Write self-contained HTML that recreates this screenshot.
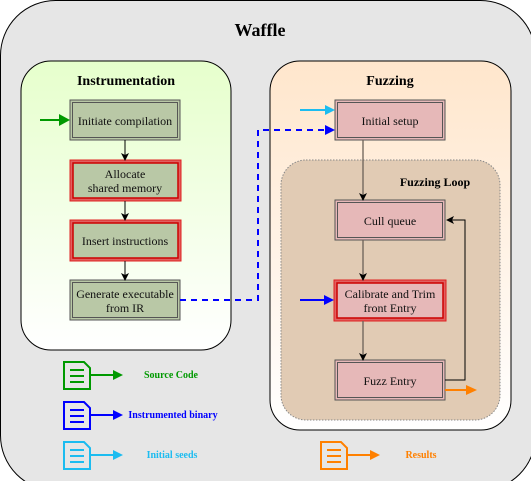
<!DOCTYPE html>
<html><head><style>body{margin:0;background:#fff}svg{display:block}text{font-family:"Liberation Serif",serif}</style></head>
<body>
<svg width="531" height="481" viewBox="0 0 531 481" xmlns="http://www.w3.org/2000/svg">
<defs>
<linearGradient id="g1" x1="0" y1="0" x2="0" y2="1"><stop offset="0" stop-color="#e6ffcc"/><stop offset="1" stop-color="#ffffff"/></linearGradient>
<linearGradient id="g2" x1="0" y1="0" x2="0" y2="1"><stop offset="0" stop-color="#ffe6cc"/><stop offset="1" stop-color="#ffffff"/></linearGradient>
<marker id="ak" markerWidth="8" markerHeight="8" refX="7" refY="4" orient="auto" markerUnits="userSpaceOnUse"><path d="M0,0 L8,4 L0,8 L2,4z" fill="#000"/></marker>
</defs>
<rect x="0.5" y="0.5" width="535" height="490" rx="55" fill="#e6e6e6" stroke="#000"/>
<text x="260" y="36" font-size="18" font-weight="bold" text-anchor="middle">Waffle</text>

<rect x="21" y="61" width="210" height="289" rx="30" fill="url(#g1)" stroke="#000"/>
<text x="126" y="85" font-size="14" font-weight="bold" text-anchor="middle">Instrumentation</text>

<rect x="270" y="61" width="241" height="369" rx="30" fill="url(#g2)" stroke="#000"/>
<text x="390" y="85" font-size="14" font-weight="bold" text-anchor="middle">Fuzzing</text>
<rect x="281" y="160" width="219" height="260" rx="25" fill="#e1cbb4" stroke="#888" stroke-dasharray="1.5,1.5"/>
<text x="435" y="186" font-size="12" font-weight="bold" text-anchor="middle">Fuzzing Loop</text>

<g font-size="12" text-anchor="middle" fill="#111">
<rect x="70" y="100" width="110" height="40" fill="#b9c8a6" stroke="#555" stroke-width="1"/><rect x="72.5" y="102.5" width="105" height="35" fill="none" stroke="#555"/>
<text x="125" y="125">Initiate compilation</text>
<rect x="70" y="160" width="111" height="41" fill="#e06060" stroke="#e02020"/><rect x="73" y="163" width="105" height="35" fill="#b9c8a6" stroke="#c00" stroke-width="1.5"/>
<text x="125" y="178">Allocate</text><text x="125" y="192">shared memory</text>
<rect x="70" y="220" width="111" height="41" fill="#e06060" stroke="#e02020"/><rect x="73" y="223" width="105" height="35" fill="#b9c8a6" stroke="#c00" stroke-width="1.5"/>
<text x="125" y="245">Insert instructions</text>
<rect x="70" y="280" width="110" height="40" fill="#b9c8a6" stroke="#555"/><rect x="72.5" y="282.5" width="105" height="35" fill="none" stroke="#555"/>
<text x="125" y="298">Generate executable</text><text x="125" y="312">from IR</text>

<rect x="335" y="100" width="110" height="40" fill="#e6b8b8" stroke="#555"/><rect x="337.5" y="102.5" width="105" height="35" fill="none" stroke="#555"/>
<text x="390" y="125">Initial setup</text>
<rect x="335" y="200" width="110" height="40" fill="#e6b8b8" stroke="#555"/><rect x="337.5" y="202.5" width="105" height="35" fill="none" stroke="#555"/>
<text x="390" y="225">Cull queue</text>
<rect x="334" y="280" width="112" height="41" fill="#e06060" stroke="#e02020"/><rect x="337" y="283" width="106" height="35" fill="#e6b8b8" stroke="#c00" stroke-width="1.5"/>
<text x="390" y="298">Calibrate and Trim</text><text x="390" y="312">front Entry</text>
<rect x="335" y="360" width="110" height="40" fill="#e6b8b8" stroke="#555"/><rect x="337.5" y="362.5" width="105" height="35" fill="none" stroke="#555"/>
<text x="390" y="385">Fuzz Entry</text>
</g>

<g stroke="#000" fill="none" marker-end="url(#ak)">
<line x1="125" y1="140" x2="125" y2="160"/>
<line x1="125" y1="201" x2="125" y2="220"/>
<line x1="125" y1="261" x2="125" y2="280"/>
</g>
<g stroke="#6b6158" stroke-width="1.3" fill="none" marker-end="url(#ak)">
<line x1="363" y1="140" x2="363" y2="200"/>
<line x1="363" y1="240" x2="363" y2="280"/>
<line x1="363" y1="321" x2="363" y2="360"/>
</g>
<path d="M445,380 H465 V220 H447" fill="none" stroke="#000" marker-end="url(#ak)"/>

<path d="M180,300 H258 V130 H326" fill="none" stroke="#0000ff" stroke-width="2" stroke-dasharray="6,5"/>
<path d="M325,125 L335,130 L325,135z" fill="#0000ff"/>
<line x1="300" y1="110" x2="326" y2="110" stroke="#1cbcf0" stroke-width="2"/><path d="M325,105 L335,110 L325,115z" fill="#1cbcf0"/>
<line x1="300" y1="300" x2="326" y2="300" stroke="#0000ff" stroke-width="2"/><path d="M324,295 L334,300 L324,305z" fill="#0000ff"/>
<line x1="40" y1="120" x2="61" y2="120" stroke="#009900" stroke-width="2"/><path d="M59,114 L70,120 L59,126z" fill="#009900"/>
<line x1="445" y1="390" x2="467" y2="390" stroke="#ff8000" stroke-width="2"/><path d="M466,385 L477,390 L466,395z" fill="#ff8000"/>

<g stroke-width="2" fill="none">
<g stroke="#009900"><path d="M64,362 H84 L90,368 V389 H64z"/><path d="M70,370 H84 M70,376 H84 M70,382 H84"/><path d="M91,375 H115"/></g>
<path d="M113,370 L123,375 L113,380z" fill="#009900"/>
<g stroke="#0000ff"><path d="M64,402 H84 L90,408 V429 H64z"/><path d="M70,410 H84 M70,416 H84 M70,422 H84"/><path d="M91,415 H115"/></g>
<path d="M113,410 L123,415 L113,420z" fill="#0000ff"/>
<g stroke="#1cbcf0"><path d="M64,442 H84 L90,448 V469 H64z"/><path d="M70,450 H84 M70,456 H84 M70,462 H84"/><path d="M91,455 H115"/></g>
<path d="M113,450 L123,455 L113,460z" fill="#1cbcf0"/>
<g stroke="#ff8000"><path d="M321,442 H341 L347,448 V469 H321z"/><path d="M327,450 H341 M327,456 H341 M327,462 H341"/><path d="M348,455 H372"/></g>
<path d="M370,450 L380,455 L370,460z" fill="#ff8000"/>
</g>
<g font-size="10" font-weight="bold" text-anchor="middle">
<text x="171" y="378" fill="#009900">Source Code</text>
<text x="173" y="418" fill="#0000ff">Instrumented binary</text>
<text x="172" y="458" fill="#1cbcf0">Initial seeds</text>
<text x="421" y="458" fill="#ff8000">Results</text>
</g>
</svg>
</body></html>
